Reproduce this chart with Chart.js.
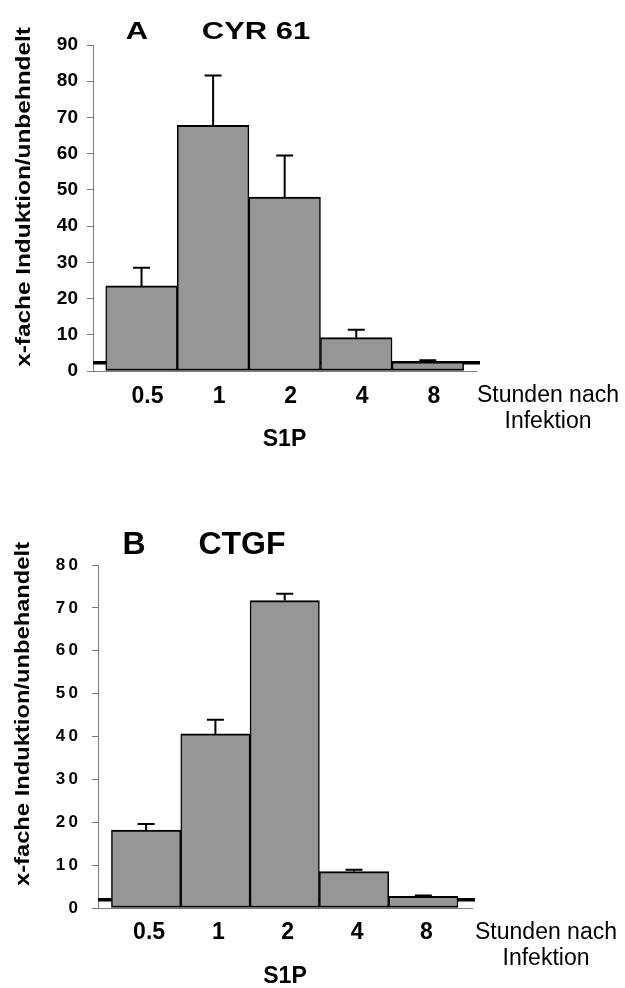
<!DOCTYPE html>
<html>
<head>
<meta charset="utf-8">
<script src="https://cdn.jsdelivr.net/npm/chart.js@4.4.1/dist/chart.umd.min.js"></script>
<style>
  html, body { margin: 0; padding: 0; background: #fff; }
  #wrap { position: relative; width: 625px; height: 988px; }
  .panel { position: absolute; left: 0; width: 625px; }
</style>
</head>
<body>
<div id="wrap">
  <div class="panel" style="top:0;height:490px"><canvas id="chartA"></canvas></div>
  <div class="panel" style="top:490px;height:498px"><canvas id="chartB"></canvas></div>
</div>
<script>
// ── Data ──────────────────────────────────────────────────────────────────────
const hours = ["0.5", "1", "2", "4", "8"];

// Panel A: CYR 61
const cyr61Mean = [23.5, 67.8, 48.0, 9.2, 2.5];
const cyr61Err  = [5.0, 13.8, 11.5, 2.2, 0.5];
const cyr61Control = 2.3;
const cyr61Ticks = [0, 10, 20, 30, 40, 50, 60, 70, 80, 90];

// Panel B: CTGF
const ctgfMean = [18.2, 40.6, 71.7, 8.5, 2.7];
const ctgfErr  = [1.4, 3.3, 1.6, 0.4, 0.2];
const ctgfControl = 1.9;
const ctgfTicks = [0, 10, 20, 30, 40, 50, 60, 70, 80];

// ── Fonts / colours ───────────────────────────────────────────────────────────
const SANS = "'Liberation Sans', Arial, sans-serif";
const BAR_GREY = "#969696";
const AXIS_GREY = "#7a7a7a";

// draw text, optionally stretched along its own direction
function drawText(ctx, text, x, y, font, sx = 1, angle = 0) {
  ctx.save();
  ctx.translate(x, y);
  ctx.rotate(angle);
  ctx.scale(sx, 1);
  ctx.font = font;
  ctx.fillText(text, 0, 0);
  ctx.restore();
}

// ── Extra drawing: control line, error bars, panel labels ─────────────────────
const figureExtras = {
  id: "figureExtras",
  beforeDatasetsDraw(chart, args, o) {
    const { ctx, chartArea: a } = chart;
    const yc = chart.scales.y.getPixelForValue(o.control);
    ctx.save();
    ctx.strokeStyle = "#000";
    ctx.lineWidth = 3.5;
    ctx.beginPath();
    ctx.moveTo(a.left - o.ctrlLeft, yc);
    ctx.lineTo(a.right + o.ctrlRight, yc);
    ctx.stroke();
    ctx.restore();
  },
  afterDatasetsDraw(chart, args, o) {
    const { ctx } = chart;
    const y = chart.scales.y;
    const meta = chart.getDatasetMeta(0);
    const values = chart.data.datasets[0].data;
    ctx.save();
    ctx.strokeStyle = "#000";
    ctx.lineWidth = 2;
    meta.data.forEach((bar, i) => {
      const yTop = y.getPixelForValue(values[i].y + o.errors[i]);
      ctx.beginPath();
      ctx.moveTo(bar.x, bar.y);
      ctx.lineTo(bar.x, yTop);
      ctx.moveTo(bar.x - 8.5, yTop);
      ctx.lineTo(bar.x + 8.5, yTop);
      ctx.stroke();
    });
    ctx.restore();
  },
  afterDraw(chart, args, o) {
    const { ctx, chartArea: a } = chart;
    ctx.save();
    ctx.fillStyle = "#000";
    ctx.textAlign = "center";
    ctx.textBaseline = "middle";
    // panel letter + gene name
    const tFont = `bold ${o.titleSize}px ${SANS}`;
    drawText(ctx, o.letter, a.left + o.letterDx, a.top + o.titleDy, tFont, o.titleStretch);
    drawText(ctx, o.gene, a.left + o.geneDx, a.top + o.titleDy, tFont, o.titleStretch);
    // hours note right of the x axis
    const nFont = `23px ${SANS}`;
    drawText(ctx, "Stunden nach", a.right + o.noteDx, a.bottom + o.noteDy, nFont);
    drawText(ctx, "Infektion", a.right + o.noteDx, a.bottom + o.noteDy + 25.5, nFont);
    // y axis title
    drawText(ctx, o.yTitle, o.yTitleX, o.yTitleY, `bold 21px ${SANS}`, o.yTitleStretch, -Math.PI / 2);
    ctx.restore();
  }
};

function makePanel(canvasId, mean, err, control, tickValues, p) {
  const canvas = document.getElementById(canvasId);
  return new Chart(canvas, {
    type: "bar",
    data: {
      labels: hours,
      datasets: [{
        data: hours.map((h, i) => ({ x: i, y: mean[i] })),
        backgroundColor: BAR_GREY,
        borderColor: "#000",
        borderWidth: { top: 2, left: 1.5, right: 1.5, bottom: 2 },
        borderSkipped: false,
        categoryPercentage: 1,
        barPercentage: 1,
      }],
    },
    options: {
      responsive: true,
      maintainAspectRatio: false,
      animation: false,
      events: [],
      layout: { padding: p.padding },
      plugins: {
        legend: { display: false },
        tooltip: { enabled: false },
        title: { display: false },
        figureExtras: {
          control,
          errors: err,
          letter: p.letter,
          gene: p.gene,
          yTitle: p.yTitle,
          ...p.extras,
        },
      },
      scales: {
        x: {
          type: "linear",
          offset: false,
          min: p.xMin,
          max: p.xMax,
          afterBuildTicks: s => { s.ticks = hours.map((h, i) => ({ value: i })); },
          grid: { display: false, drawTicks: false, offset: false },
          border: { display: true, color: AXIS_GREY, width: 1 },
          ticks: {
            color: "#000",
            padding: p.xTickPad,
            labelOffset: p.xLabelOffset,
            maxRotation: 0,
            autoSkip: false,
            font: { family: SANS, size: 23, weight: "bold" },
            callback: v => hours[v],
          },
          title: {
            display: true,
            text: "S1P",
            color: "#000",
            padding: 0,
            font: { family: SANS, size: 23, weight: "bold", lineHeight: p.s1pLine },
          },
          afterFit: s => { s.height = p.xHeight; },
        },
        y: {
          min: tickValues[0],
          max: tickValues[tickValues.length - 1],
          afterBuildTicks: s => { s.ticks = tickValues.map(v => ({ value: v })); },
          grid: { drawOnChartArea: false, drawTicks: true, tickLength: 6, color: AXIS_GREY },
          border: { display: true, color: AXIS_GREY, width: 1 },
          ticks: {
            color: "#000",
            padding: p.yTickPad,
            font: { family: SANS, size: p.yTickSize, weight: "bold" },
            callback: p.yTickFormat,
          },
          afterFit: s => { s.width = p.yWidth; },
        },
      },
    },
    plugins: [figureExtras],
  });
}

makePanel("chartA", cyr61Mean, cyr61Err, cyr61Control, cyr61Ticks, {
  letter: "A",
  gene: "CYR 61",
  yTitle: "x-fache Induktion/unbehndelt",
  padding: { left: 40, right: 149, top: 45, bottom: 37 },
  xMin: -0.678,
  xMax: 4.673,
  yWidth: 53,
  xHeight: 82,
  xTickPad: 12,
  xLabelOffset: 6,
  yTickPad: 9,
  yTickSize: 19,
  s1pLine: 1.2,
  yTickFormat: v => String(v),
  extras: {
    ctrlLeft: 0, ctrlRight: 4,
    titleSize: 24, titleStretch: 1.29,
    letterDx: 44, geneDx: 163, titleDy: -13,
    noteDx: 72, noteDy: 25,
    yTitleX: 24, yTitleY: 197, yTitleStretch: 1.16,
  },
});

makePanel("chartB", ctgfMean, ctgfErr, ctgfControl, ctgfTicks, {
  letter: "B",
  gene: "CTGF",
  yTitle: "x-fache Induktion/unbehandelt",
  padding: { left: 40, right: 153, top: 75, bottom: 0 },
  xMin: -0.694,
  xMax: 4.702,
  yWidth: 58,
  xHeight: 80,
  xTickPad: 11,
  xLabelOffset: 3,
  yTickPad: 14,
  yTickSize: 17,
  s1pLine: 1.0,
  yTickFormat: v => String(v).split("").join("\u2009"),
  extras: {
    ctrlLeft: 0, ctrlRight: 3,
    titleSize: 32, titleStretch: 1,
    letterDx: 36, geneDx: 144, titleDy: -20,
    noteDx: 74, noteDy: 25,
    yTitleX: 23, yTitleY: 224, yTitleStretch: 1.13,
  },
});
</script>
</body>
</html>
